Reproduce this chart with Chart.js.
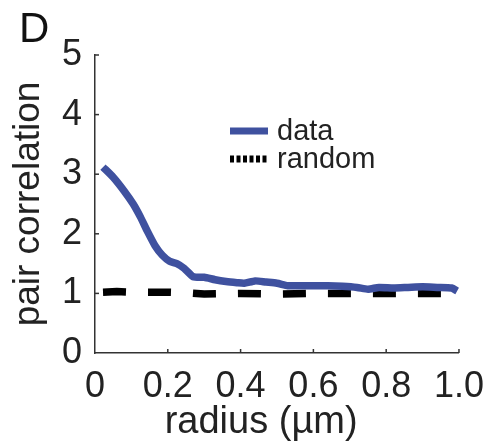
<!DOCTYPE html>
<html>
<head>
<meta charset="utf-8">
<script src="https://cdn.jsdelivr.net/npm/chart.js@4.4.0/dist/chart.umd.min.js"></script>
<style>
  html, body { margin: 0; padding: 0; background: #fff; }
  #wrap { position: relative; width: 496px; height: 445px; }
  #panel { position: absolute; left: 19px; top: 4px; font: 42px "Liberation Sans", Arial, sans-serif; color: #111; }
</style>
</head>
<body>
<div id="wrap">
  <canvas id="myChart" width="496" height="445"></canvas>
  <div id="panel">D</div>
</div>
<script>
// radius (um) vs pair correlation
const radio_data = [0.022, 0.05, 0.08, 0.105, 0.125, 0.145, 0.165, 0.185, 0.205, 0.225, 0.245, 0.27, 0.30, 0.33, 0.36, 0.39, 0.41, 0.44, 0.47, 0.50, 0.53, 0.56, 0.60, 0.64, 0.68, 0.72, 0.75, 0.78, 0.82, 0.86, 0.90, 0.94, 0.98, 0.995];
const valor_data = [3.12, 2.95, 2.72, 2.50, 2.28, 2.03, 1.80, 1.64, 1.54, 1.50, 1.42, 1.28, 1.27, 1.23, 1.20, 1.18, 1.17, 1.21, 1.19, 1.17, 1.13, 1.13, 1.13, 1.13, 1.12, 1.10, 1.07, 1.10, 1.09, 1.10, 1.11, 1.10, 1.09, 1.04];
const radio_random = [0.022, 0.06, 0.10, 0.14, 0.20, 0.25, 0.30, 0.40, 0.50, 0.60, 0.70, 0.80, 0.90, 0.98, 1.0];
const valor_random = [1.02, 1.03, 1.02, 1.02, 1.02, 1.01, 0.99, 1.0, 0.99, 1.0, 1.0, 1.0, 1.0, 1.0, 0.95];
const etiquetas_series = ["data", "random"];
const ticks_x = [0, 0.2, 0.4, 0.6, 0.8, 1.0];
const ticks_y = [0, 1, 2, 3, 4, 5];

const fuente = '"Liberation Sans", Arial, sans-serif';
const azul = "#3f519f";

function armar_puntos(xs, ys) {
  return xs.map((x, i) => ({ x: x, y: ys[i] }));
}

// little inward tick marks, placed from the scales
const ticks_adentro = {
  id: "ticks_adentro",
  afterDraw(chart) {
    const ctx = chart.ctx;
    const sx = chart.scales.x;
    const sy = chart.scales.y;
    const area = chart.chartArea;
    ctx.save();
    ctx.strokeStyle = "#333";
    ctx.lineWidth = 1.5;
    ticks_x.slice(1).forEach((v) => {
      const px = sx.getPixelForValue(v);
      ctx.beginPath();
      ctx.moveTo(px, area.bottom);
      ctx.lineTo(px, area.bottom - 4);
      ctx.stroke();
    });
    ticks_y.slice(1).forEach((v) => {
      const py = sy.getPixelForValue(v);
      ctx.beginPath();
      ctx.moveTo(area.left, py);
      ctx.lineTo(area.left + 4, py);
      ctx.stroke();
    });
    ctx.restore();
  },
};

// legend box inside the plot
const leyenda = {
  id: "leyenda",
  afterDraw(chart) {
    const ctx = chart.ctx;
    const x0 = 230, x1 = 268, xt = 277;
    const filas = [131, 159];
    ctx.save();
    ctx.font = "29px " + fuente;
    ctx.textBaseline = "middle";
    ctx.fillStyle = "#222";
    chart.data.datasets.forEach((ds, i) => {
      ctx.beginPath();
      ctx.strokeStyle = ds.borderColor;
      ctx.lineWidth = 7;
      ctx.setLineDash(i === 0 ? [] : [4, 2.5]);
      ctx.moveTo(x0, filas[i]);
      ctx.lineTo(x1, filas[i]);
      ctx.stroke();
      ctx.setLineDash([]);
      ctx.fillText(ds.label, xt, filas[i] + 1);
    });
    ctx.restore();
  },
};

const config = {
  type: "line",
  data: {
    datasets: [
      {
        label: etiquetas_series[0],
        data: armar_puntos(radio_data, valor_data),
        borderColor: azul,
        borderWidth: 7.5,
        borderJoinStyle: "round",
        pointRadius: 0,
        tension: 0.2,
      },
      {
        label: etiquetas_series[1],
        data: armar_puntos(radio_random, valor_random),
        borderColor: "#000",
        borderWidth: 7.5,
        borderDash: [23, 22],
        pointRadius: 0,
        tension: 0,
      },
    ],
  },
  options: {
    responsive: false,
    animation: false,
    layout: { padding: { top: 55, right: 30, left: 0, bottom: 0 } },
    plugins: { legend: { display: false }, tooltip: { enabled: false } },
    scales: {
      x: {
        type: "linear",
        min: 0,
        max: 1,
        afterFit: (s) => { s.height = 92; },
        afterBuildTicks: (s) => { s.ticks = ticks_x.map((v) => ({ value: v })); },
        grid: { display: false, drawTicks: false, tickLength: 0 },
        border: { display: true, color: "#333", width: 1.5 },
        ticks: {
          padding: 12,
          color: "#222",
          font: { family: fuente, size: 36 },
          maxRotation: 0,
          callback: (v) => (v === 0 ? "0" : v.toFixed(1)),
        },
        title: {
          display: true,
          text: "radius (µm)   ",
          color: "#222",
          font: { family: fuente, size: 38 },
          padding: { top: 0, bottom: 0 },
        },
      },
      y: {
        min: 0,
        max: 5,
        afterFit: (s) => { s.width = 95; },
        afterBuildTicks: (s) => { s.ticks = ticks_y.map((v) => ({ value: v })); },
        grid: { display: false, drawTicks: false, tickLength: 0 },
        border: { display: true, color: "#333", width: 1.5 },
        ticks: {
          padding: 13,
          color: "#222",
          font: { family: fuente, size: 36 },
        },
        title: {
          display: true,
          text: "pair correlation",
          color: "#222",
          font: { family: fuente, size: 37 },
          padding: { top: 7, bottom: 0 },
        },
      },
    },
  },
  plugins: [ticks_adentro, leyenda],
};

new Chart(document.getElementById("myChart"), config);
</script>
</body>
</html>
